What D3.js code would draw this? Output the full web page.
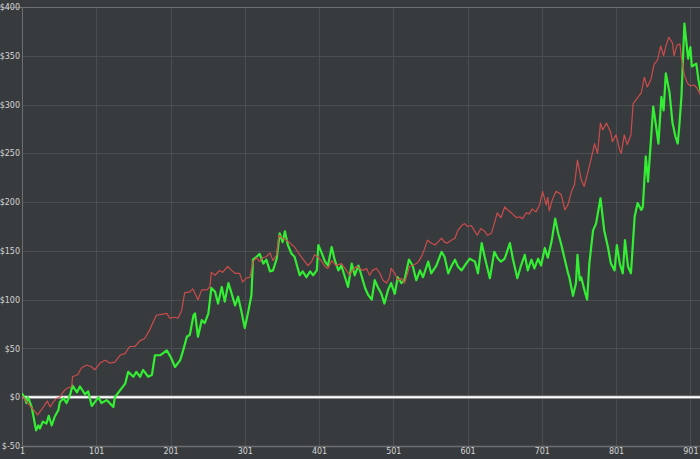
<!DOCTYPE html>
<html><head><meta charset="utf-8">
<script src="https://cdn.jsdelivr.net/npm/d3@7"></script>
<style>
html,body{margin:0;padding:0;background:#383b3e;}
svg{display:block;}
</style></head>
<body>
<svg id="chart" width="700" height="459"></svg>
<script>
const xTicks = [1,101,201,301,401,501,601,701,801,901];
const yTicks = [-50,0,50,100,150,200,250,300,350,400];

const redIdx = [1,8,14,22,29,35,39,43,48,52,56,61,68,69,76,81,88,95,99,106,113,119,126,133,140,146,153,160,166,173,177,182,196,200,207,211,216,220,227,231,238,243,250,254,256,261,267,271,278,283,288,294,298,303,308,312,317,321,325,330,335,339,344,347,352,357,362,368,375,382,386,391,395,399,404,409,413,418,424,431,436,442,446,451,456,460,465,469,473,478,483,487,492,496,498,503,507,512,516,523,527,532,536,540,543,547,552,557,561,566,570,574,579,584,588,593,597,601,606,610,614,619,624,628,633,637,641,646,651,655,660,667,671,675,680,684,688,693,698,702,707,709,711,715,720,727,732,736,741,745,749,754,758,762,767,772,776,780,783,788,794,796,801,806,808,812,816,821,824,830,835,839,843,848,852,857,861,865,868,872,877,879,883,887,889,893,897,901,906,910,915];
const redVal = [1,-5,-11,-18,-11,-4,-10,-5,-1,0,5,9,11,21,23,30,33,31,28,35,38,35,36,43,45,52,52,58,60,69,76,84,86,81,82,81,89,107,108,111,100,110,110,113,128,125,130,128,134,130,127,127,118,122,123,139,143,139,143,144,148,140,146,166,163,161,158,154,146,139,135,139,146,144,140,134,132,140,135,137,132,125,130,134,132,130,132,125,130,132,127,120,117,123,132,127,120,122,117,134,135,137,140,146,152,161,158,156,159,163,159,158,161,163,171,176,178,175,176,171,166,173,170,166,168,178,189,184,195,192,189,184,185,183,189,188,193,190,197,211,197,205,191,202,211,208,192,197,211,218,243,223,216,228,243,260,250,281,274,281,271,262,269,253,250,269,259,269,301,307,312,328,318,326,341,346,360,350,360,369,363,350,361,362,348,330,322,319,320,317,309];

const greenIdx = [1,5,7,9,14,20,23,25,29,34,37,41,45,50,52,57,61,66,69,75,79,86,90,95,99,104,108,115,119,124,126,133,140,144,151,155,160,164,171,176,180,187,196,202,207,214,218,223,227,232,234,238,243,247,252,256,261,265,270,274,279,283,288,292,297,301,306,310,312,317,321,326,330,335,339,344,348,352,355,359,364,368,375,379,384,389,393,398,400,404,409,413,418,422,427,431,436,440,445,449,454,458,463,467,472,476,480,485,489,494,498,503,507,512,516,522,527,532,537,541,548,552,559,566,570,575,579,584,588,593,599,604,611,615,620,624,631,637,642,646,651,658,662,668,673,678,682,687,691,696,700,705,709,714,719,723,727,732,736,738,743,747,749,752,754,759,762,765,770,774,780,785,790,794,799,802,806,810,813,817,821,826,830,835,837,841,844,848,851,855,858,862,865,868,873,877,881,884,886,889,893,898,901,903,909,912,915];
const greenVal = [4,-1,-6,0,-10,-34,-29,-32,-25,-27,-19,-29,-20,-13,-5,-1,-6,3,12,5,11,3,6,-9,-5,0,-6,-3,-6,-10,0,7,14,26,21,26,21,28,21,23,43,43,48,40,31,38,48,62,64,84,86,62,79,76,86,112,108,96,113,98,117,107,94,103,86,71,89,105,141,144,147,137,141,129,130,142,168,159,170,156,147,144,125,129,123,129,125,130,156,149,139,135,154,141,130,135,123,113,137,125,135,125,112,105,100,120,113,106,96,110,117,106,123,117,120,141,135,120,130,123,139,127,135,149,144,127,134,141,134,130,137,142,139,127,158,144,122,149,142,139,142,158,142,122,135,146,130,141,132,142,135,153,143,159,183,168,157,141,128,123,104,117,146,120,123,108,100,137,171,178,204,171,154,137,130,156,137,127,161,134,127,185,199,192,195,247,221,264,298,277,260,308,294,332,312,281,267,260,277,308,383,347,359,339,342,325,313];

const W = 700, H = 459;
const mLeft = 22, mRight = 700, mTop = 7, mBottom = 446;
const svg = d3.select("#chart");
svg.append("rect").attr("width", W).attr("height", H).attr("fill", "#383b3e");

const x = d3.scaleLinear().domain([1, 914]).range([mLeft, mRight]);
const y = d3.scaleLinear().domain([-50, 400]).range([mBottom, mTop]);

// grid
const grid = svg.append("g");
grid.selectAll("line.h").data(yTicks.filter(v => v > -50 && v < 400)).enter().append("line")
  .attr("x1", mLeft).attr("x2", mRight)
  .attr("y1", d => Math.round(y(d)) + 0.5).attr("y2", d => Math.round(y(d)) + 0.5)
  .attr("stroke", "#4a4d51").attr("stroke-width", 1);
grid.selectAll("line.v").data(xTicks.slice(1)).enter().append("line")
  .attr("y1", mTop).attr("y2", mBottom)
  .attr("x1", d => Math.round(x(d)) + 0.5).attr("x2", d => Math.round(x(d)) + 0.5)
  .attr("stroke", "#4a4d51").attr("stroke-width", 1);

// frame
svg.append("line").attr("x1", 0).attr("x2", W).attr("y1", mTop + 0.5).attr("y2", mTop + 0.5)
  .attr("stroke", "#6c6f72").attr("stroke-width", 1);
svg.append("line").attr("x1", mLeft + 0.5).attr("x2", mLeft + 0.5).attr("y1", mTop).attr("y2", mBottom)
  .attr("stroke", "#6c6f72").attr("stroke-width", 1);
svg.append("line").attr("x1", mLeft).attr("x2", W).attr("y1", mBottom + 0.5).attr("y2", mBottom + 0.5)
  .attr("stroke", "#6c6f72").attr("stroke-width", 1.5);

// axes (labels only)
const yAxis = d3.axisLeft(y).tickValues(yTicks).tickSize(0).tickPadding(2)
  .tickFormat(d => "$" + d);
const gy = svg.append("g").attr("transform", `translate(${mLeft},0)`).call(yAxis);
gy.select(".domain").remove();
gy.selectAll("text").attr("fill", "#d4d4d4").style("font-family", "DejaVu Sans, Verdana, sans-serif")
  .style("font-size", "8px");

const xAxis = d3.axisBottom(x).tickValues(xTicks).tickSize(0).tickPadding(2)
  .tickFormat(d => d);
const gx = svg.append("g").attr("transform", `translate(0,${mBottom})`).call(xAxis);
gx.select(".domain").remove();
gx.selectAll("text").attr("fill", "#d4d4d4").style("font-family", "DejaVu Sans, Verdana, sans-serif")
  .style("font-size", "8px");

// clip
svg.append("clipPath").attr("id", "plotclip").append("rect")
  .attr("x", mLeft).attr("y", mTop).attr("width", mRight - mLeft).attr("height", mBottom - mTop);

// zero line
svg.append("line").attr("x1", mLeft).attr("x2", mRight)
  .attr("y1", y(0)).attr("y2", y(0)).attr("stroke", "#8a8c8e").attr("stroke-width", 3.5);
svg.append("line").attr("x1", mLeft).attr("x2", mRight)
  .attr("y1", y(0)).attr("y2", y(0)).attr("stroke", "#ffffff").attr("stroke-width", 1.8);

const lineGen = d3.line().x(d => x(d[0])).y(d => y(d[1]));
const greenData = greenIdx.map((d, i) => [d, greenVal[i]]);
const redData = redIdx.map((d, i) => [d, redVal[i]]);

const plot = svg.append("g").attr("clip-path", "url(#plotclip)");
plot.append("path").datum(greenData).attr("d", lineGen)
  .attr("fill", "none").attr("stroke", "#33ee33").attr("stroke-width", 2.2)
  .attr("stroke-linejoin", "round");
plot.append("path").datum(redData).attr("d", lineGen)
  .attr("fill", "none").attr("stroke", "#cc4c4c").attr("stroke-width", 1.2)
  .attr("stroke-linejoin", "round");
</script>
</body></html>
